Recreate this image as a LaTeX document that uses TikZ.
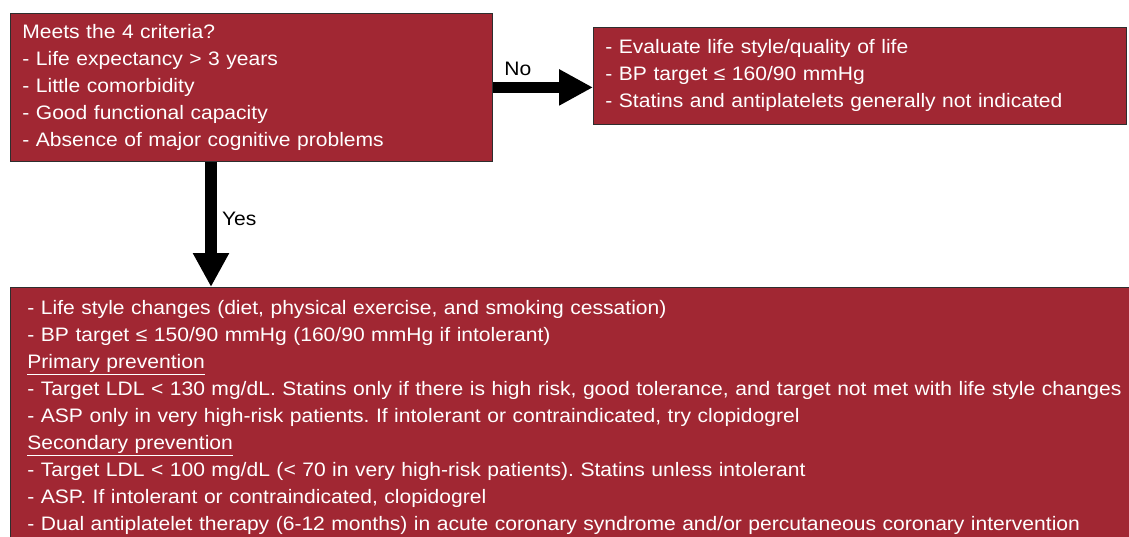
\documentclass[tikz,border=0pt]{standalone}
\usepackage{fontspec}
\setmainfont[FakeStretch=1.08]{Liberation Sans}
\usetikzlibrary{arrows.meta,positioning,calc}
\definecolor{crit}{HTML}{A12733}
\definecolor{edge}{HTML}{2E2E2E}
\tikzset{
  box/.style={draw=edge,fill=crit,line width=0.8pt,text=white,align=left,
    inner xsep=12pt,font=\fontsize{19.5}{27}\selectfont},
  fat/.style={-{Triangle[length=34pt,width=34pt]},line width=11.5pt},
  lab/.style={font=\fontsize{19.5}{27}\selectfont}
}
\frenchspacing

\begin{document}
\begin{tikzpicture}[x=1pt,y=1pt]
\clip (0,0) rectangle (1129,-536);
\node[box,anchor=north west,minimum width=482pt,minimum height=148pt,text width=458pt] (crit) at (10,-13)
  {Meets the 4 criteria?\\- Life expectancy > 3 years\\- Little comorbidity\\- Good functional capacity\\- Absence of major cognitive problems};
\node[box,anchor=north west,minimum width=531pt,minimum height=97pt,text width=509pt] (no) at (593,-27)
  {- Evaluate life style/quality of life\\- BP target ≤ 160/90 mmHg\\- Statins and antiplatelets generally not indicated};
\node[box,anchor=north west,inner xsep=17pt,inner ysep=13pt,text width=1120pt] (yes) at (10,-287)
  {- Life style changes (diet, physical exercise, and smoking cessation)\\
   - BP target ≤ 150/90 mmHg (160/90 mmHg if intolerant)\\
   \underline{Primary prevention}\\
   - Target LDL < 130 mg/dL. Statins only if there is high risk, good tolerance, and target not met with life style changes\\
   - ASP only in very high-risk patients. If intolerant or contraindicated, try clopidogrel\\
   \underline{Secondary prevention}\\
   - Target LDL < 100 mg/dL (< 70 in very high-risk patients). Statins unless intolerant\\
   - ASP. If intolerant or contraindicated, clopidogrel\\
   - Dual antiplatelet therapy (6-12 months) in acute coronary syndrome and/or percutaneous coronary intervention};
% arrows
\coordinate (yesfoot) at ($(crit.south west)+(201,0)$);
\draw[fat] (crit.east) -- (crit.east -| no.west) node[pos=0.25,above,yshift=3pt,lab] {No};
\draw[fat] (yesfoot) -- (yesfoot |- yes.north) node[midway,right,xshift=2pt,yshift=6pt,lab] {Yes};
\end{tikzpicture}
\end{document}
